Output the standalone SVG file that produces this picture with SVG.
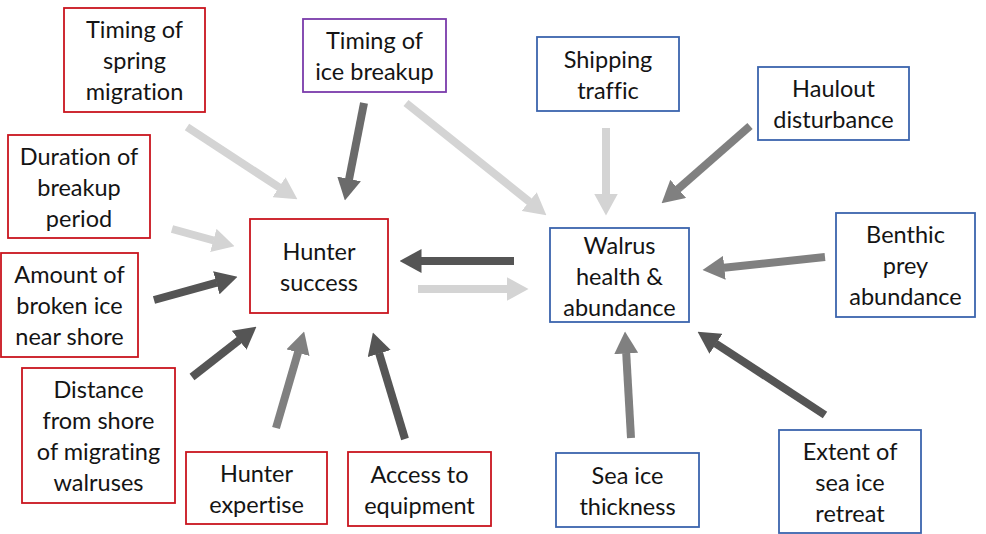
<svg xmlns="http://www.w3.org/2000/svg" width="986" height="534" viewBox="0 0 986 534">
  <style>
    .box rect { fill: #ffffff; stroke-width: 1.8; }
    .red rect { stroke: #c9151e; }
    .blue rect { stroke: #3b64ad; }
    .purple rect { stroke: #7a3bab; }
    .box text { font-family: "Lato", "Liberation Sans", sans-serif; font-size: 23.5px; fill: #141414; text-anchor: middle; font-variant-ligatures: none; font-feature-settings: "liga" 0, "dlig" 0; }
    .conn line { stroke-width: 8; stroke-linecap: butt; fill: none; }
    .light { stroke: #d4d4d4; }
    .mid { stroke: #808080; }
    .mid2 { stroke: #6b6b6b; }
    .dark { stroke: #555555; }
  </style>
  <defs>
    <marker id="head-light" markerUnits="userSpaceOnUse" viewBox="0 0 22 24" markerWidth="22" markerHeight="24" refX="0.5" refY="12" orient="auto">
      <path d="M0,0 L22,12 L0,24 z" fill="#d4d4d4"/>
    </marker>
    <marker id="head-mid" markerUnits="userSpaceOnUse" viewBox="0 0 22 24" markerWidth="22" markerHeight="24" refX="0.5" refY="12" orient="auto">
      <path d="M0,0 L22,12 L0,24 z" fill="#808080"/>
    </marker>
    <marker id="head-mid2" markerUnits="userSpaceOnUse" viewBox="0 0 22 24" markerWidth="22" markerHeight="24" refX="0.5" refY="12" orient="auto">
      <path d="M0,0 L22,12 L0,24 z" fill="#6b6b6b"/>
    </marker>
    <marker id="head-dark" markerUnits="userSpaceOnUse" viewBox="0 0 22 24" markerWidth="22" markerHeight="24" refX="0.5" refY="12" orient="auto">
      <path d="M0,0 L22,12 L0,24 z" fill="#555555"/>
    </marker>
  </defs>

  <rect width="986" height="534" fill="#ffffff"/>

  <!-- connectors -->
  <g id="connectors" class="conn">
    <line class="light" x1="187" y1="127" x2="279.4" y2="187.5" marker-end="url(#head-light)"/>
    <line class="light" x1="172" y1="229" x2="213.8" y2="240.5" marker-end="url(#head-light)"/>
    <line class="mid2" x1="364" y1="103" x2="349" y2="179.4" marker-end="url(#head-mid2)"/>
    <line class="light" x1="406" y1="103" x2="529.6" y2="201.9" marker-end="url(#head-light)"/>
    <line class="light" x1="606" y1="128" x2="606" y2="194" marker-end="url(#head-light)"/>
    <line class="mid" x1="750" y1="126" x2="677.8" y2="189.2" marker-end="url(#head-mid)"/>
    <line class="mid" x1="825" y1="257" x2="723.9" y2="267.8" marker-end="url(#head-mid)"/>
    <line class="dark" x1="514" y1="261" x2="421" y2="261" marker-end="url(#head-dark)"/>
    <line class="light" x1="418" y1="289" x2="507" y2="289" marker-end="url(#head-light)"/>
    <line class="dark" x1="154" y1="300" x2="216.8" y2="282.6" marker-end="url(#head-dark)"/>
    <line class="dark" x1="192" y1="377" x2="239.5" y2="339.9" marker-end="url(#head-dark)"/>
    <line class="mid" x1="276" y1="428" x2="298.1" y2="352.2" marker-end="url(#head-mid)"/>
    <line class="dark" x1="405" y1="439" x2="379.1" y2="353.1" marker-end="url(#head-dark)"/>
    <line class="mid" x1="631" y1="438" x2="626.2" y2="353" marker-end="url(#head-mid)"/>
    <line class="dark" x1="825" y1="415" x2="715.6" y2="343.5" marker-end="url(#head-dark)"/>
  </g>

  <!-- hunter-side factors -->
  <g id="spring-migration" class="box red">
    <rect x="64" y="8" width="141" height="104"/>
    <text x="134.5" y="38">Timing of</text>
    <text x="134.5" y="69">spring</text>
    <text x="134.5" y="100">migration</text>
  </g>
  <g id="breakup-duration" class="box red">
    <rect x="8" y="135" width="142" height="103"/>
    <text x="79" y="164.5">Duration of</text>
    <text x="79" y="195.5">breakup</text>
    <text x="79" y="226.5">period</text>
  </g>
  <g id="ice-breakup" class="box purple">
    <rect x="303" y="19" width="143" height="73"/>
    <text x="374.5" y="49">Timing of</text>
    <text x="374.5" y="80">ice breakup</text>
  </g>
  <g id="broken-ice" class="box red">
    <rect x="1" y="253" width="137" height="104"/>
    <text x="69.5" y="283">Amount of</text>
    <text x="69.5" y="314">broken ice</text>
    <text x="69.5" y="345">near shore</text>
  </g>
  <g id="distance" class="box red">
    <rect x="22" y="368" width="153" height="135"/>
    <text x="98.5" y="398">Distance</text>
    <text x="98.5" y="429">from shore</text>
    <text x="98.5" y="460">of migrating</text>
    <text x="98.5" y="491">walruses</text>
  </g>
  <g id="expertise" class="box red">
    <rect x="186" y="452" width="141" height="72"/>
    <text x="256.5" y="481.5">Hunter</text>
    <text x="256.5" y="512.5">expertise</text>
  </g>
  <g id="equipment" class="box red">
    <rect x="348" y="452" width="143" height="74"/>
    <text x="419.5" y="482.5">Access to</text>
    <text x="419.5" y="513.5">equipment</text>
  </g>
  <g id="hunter-success" class="box red">
    <rect x="250" y="219" width="138" height="94"/>
    <text x="319" y="259.5">Hunter</text>
    <text x="319" y="290.5">success</text>
  </g>

  <!-- walrus-side factors -->
  <g id="shipping" class="box blue">
    <rect x="537" y="37" width="142" height="74"/>
    <text x="608" y="67.5">Shipping</text>
    <text x="608" y="98.5">traffic</text>
  </g>
  <g id="haulout" class="box blue">
    <rect x="758" y="67" width="151" height="73"/>
    <text x="833.5" y="97">Haulout</text>
    <text x="833.5" y="128">disturbance</text>
  </g>
  <g id="benthic" class="box blue">
    <rect x="836" y="213" width="139" height="104"/>
    <text x="905.5" y="243">Benthic</text>
    <text x="905.5" y="274">prey</text>
    <text x="905.5" y="305">abundance</text>
  </g>
  <g id="walrus" class="box blue">
    <rect x="550" y="228" width="139" height="94"/>
    <text x="619.5" y="253.5">Walrus</text>
    <text x="619.5" y="284.5">health &amp;</text>
    <text x="619.5" y="315.5">abundance</text>
  </g>
  <g id="ice-thickness" class="box blue">
    <rect x="556" y="453" width="143" height="74"/>
    <text x="627.5" y="483.5">Sea ice</text>
    <text x="627.5" y="514.5">thickness</text>
  </g>
  <g id="ice-retreat" class="box blue">
    <rect x="779" y="430" width="142" height="103"/>
    <text x="850" y="459.5">Extent of</text>
    <text x="850" y="490.5">sea ice</text>
    <text x="850" y="521.5">retreat</text>
  </g>
</svg>
